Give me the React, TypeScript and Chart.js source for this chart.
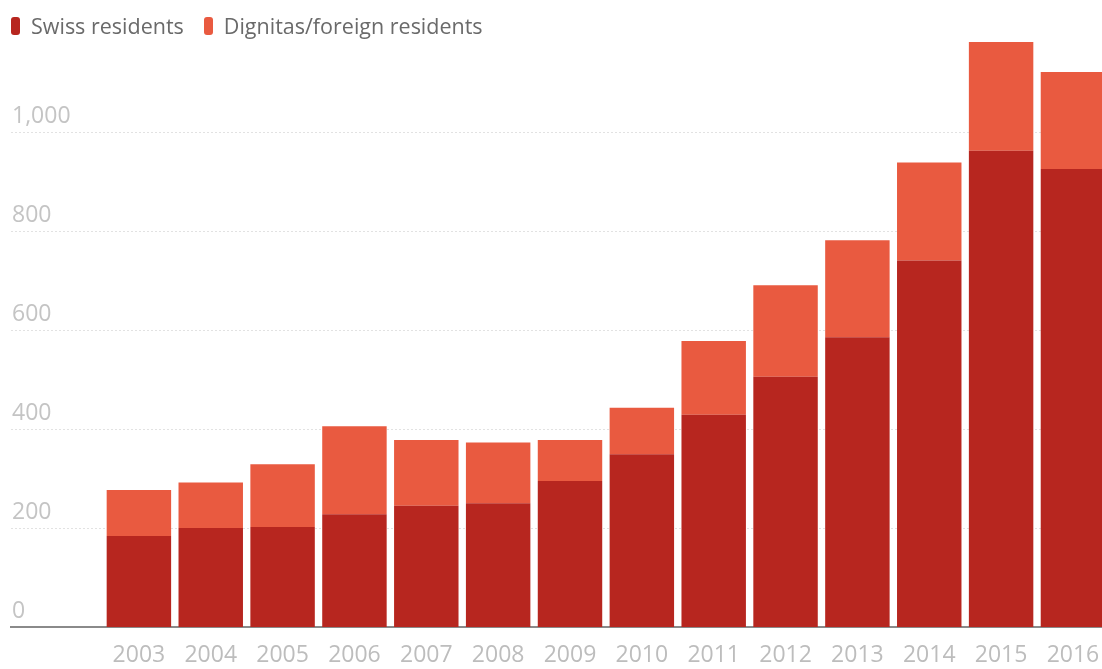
import React, { useEffect, useRef } from "react";
import { Chart, registerables } from "chart.js";

Chart.register(...registerables);

const years = [2003, 2004, 2005, 2006, 2007, 2008, 2009, 2010, 2011, 2012, 2013, 2014, 2015, 2016];
const swissResidents = [185, 201, 203, 229, 246, 251, 296, 350, 430, 507, 587, 742, 964, 927];
const foreignResidents = [93, 92, 127, 178, 133, 123, 83, 94, 149, 185, 196, 198, 220, 196];
const yTicks = [0, 200, 400, 600, 800, 1000];
const seriesNames = ["Swiss residents", "Dignitas/foreign residents"];
const seriesColors = ["#b7261f", "#e95a40"];

const FONT = "'Open Sans', 'Noto Sans', sans-serif";

export default function App() {
  const ref = useRef<HTMLCanvasElement | null>(null);

  useEffect(() => {
    const canvas = ref.current;
    if (!canvas) return;
    const chart = new Chart(canvas, {
      type: "bar",
      data: {
        datasets: [
          {
            label: seriesNames[0],
            data: years.map((y, i) => ({ x: y, y: swissResidents[i] })),
            backgroundColor: seriesColors[0],
            borderWidth: 0,
          },
          {
            label: seriesNames[1],
            data: years.map((y, i) => ({ x: y, y: foreignResidents[i] })),
            backgroundColor: seriesColors[1],
            borderWidth: 0,
          },
        ],
      },
      options: {
        animation: false,
        responsive: false,
        layout: { padding: { left: 9, right: 0, top: 34, bottom: 0 } },
        datasets: { bar: { categoryPercentage: 1, barPercentage: 0.897 } },
        plugins: { legend: { display: false }, tooltip: { enabled: false } },
        scales: {
          x: {
            type: "linear",
            stacked: true,
            offset: false,
            min: 2001.22,
            max: 2016.46,
            afterBuildTicks: (axis: any) => {
              axis.ticks = years.map((v) => ({ value: v }));
            },
            afterFit: (axis: any) => {
              axis.paddingLeft = 0;
              axis.paddingRight = 0;
            },
            grid: { display: false, drawTicks: false, offset: false },
            border: { display: true, color: "#8a8a8a", width: 2 },
            ticks: {
              autoSkip: false,
              maxRotation: 0,
              padding: 14,
              color: "#bdbdbd",
              font: { family: FONT, size: 23 },
              callback: (v: any) => String(v),
            },
          },
          y: {
            stacked: true,
            min: 0,
            max: 1200,
            afterBuildTicks: (axis: any) => {
              axis.ticks = yTicks.map((v) => ({ value: v }));
            },
            grid: {
              drawTicks: false,
              color: (ctx: any) => (ctx.tick && ctx.tick.value === 0 ? "rgba(0,0,0,0)" : "#e2e2e2"),
              lineWidth: 1,
            },
            border: { display: false, dash: [2, 2] },
            ticks: {
              mirror: true,
              padding: 1,
              labelOffset: -16,
              color: "#c4c4c4",
              font: { family: FONT, size: 23 },
              callback: (v: any) => Number(v).toLocaleString("en-US"),
            },
          },
        },
      },
    });
    return () => chart.destroy();
  }, []);

  return (
    <div style={{ position: "fixed", left: 0, top: 0, width: 1106, height: 669, overflow: "hidden", background: "#fff" }}>
      <canvas ref={ref} width={1106} height={683} style={{ display: "block", width: 1106, height: 683 }} />
      <div
        style={{
          position: "absolute",
          left: 11,
          top: 13,
          display: "flex",
          alignItems: "center",
          fontFamily: FONT,
          fontSize: 21.5,
          color: "#6a6a6a",
          lineHeight: "26px",
        }}
      >
        {seriesNames.map((n, i) => (
          <div key={n} style={{ display: "flex", alignItems: "center", marginRight: 20 }}>
            <span
              style={{
                display: "inline-block",
                width: 9,
                height: 18,
                borderRadius: 3,
                background: seriesColors[i],
                marginRight: 11,
              }}
            />
            <span>{n}</span>
          </div>
        ))}
      </div>
    </div>
  );
}
